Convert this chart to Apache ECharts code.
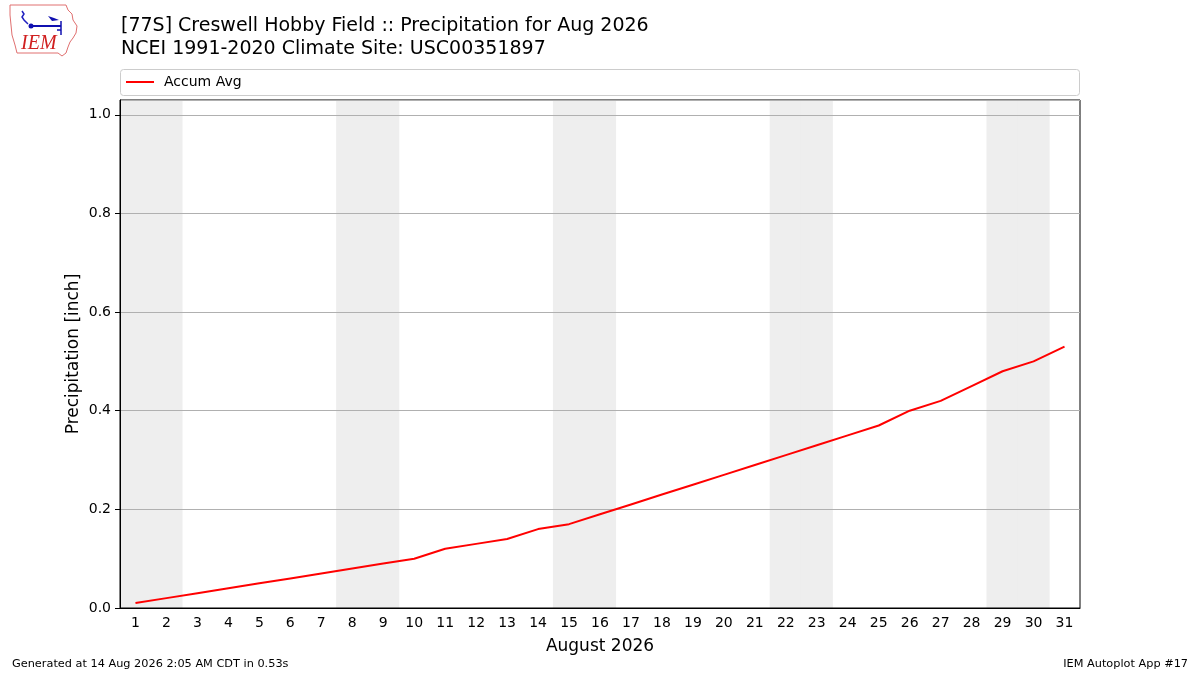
<!DOCTYPE html>
<html>
<head>
<meta charset="utf-8">
<title>Precipitation for Aug 2026</title>
<script src="https://cdn.jsdelivr.net/npm/echarts@6/dist/echarts.min.js"></script>
<style>
  html, body { margin: 0; padding: 0; background: #fff; }
  #chart { width: 1200px; height: 675px; }
</style>
</head>
<body>
<div id="chart"></div>
<script>
// day of month labels
var days = ['1', '2', '3', '4', '5', '6', '7', '8', '9', '10', '11', '12', '13', '14', '15', '16',
  '17', '18', '19', '20', '21', '22', '23', '24', '25', '26', '27', '28', '29', '30', '31'];
// accumulated climatology precip [inch]
var accumAvg = [0.01, 0.02, 0.03, 0.04, 0.05, 0.06, 0.07, 0.08, 0.09, 0.10, 0.12, 0.13, 0.14, 0.16, 0.17, 0.19,
  0.21, 0.23, 0.25, 0.27, 0.29, 0.31, 0.33, 0.35, 0.37, 0.40, 0.42, 0.45, 0.48, 0.50, 0.53];
// weekend days get the grey band
var weekendDays = ['1', '2', '8', '9', '15', '16', '22', '23', '29', '30'];
var yTicks = [0, 0.2, 0.4, 0.6, 0.8, 1.0];
var yMax = 1.03;

var font = 'DejaVu Sans';

var shade = days.map(function (d) {
  return weekendDays.indexOf(d) >= 0 ? yMax : '-';
});

var myChart = echarts.init(document.getElementById('chart'));
myChart.setOption({
  animation: false,
  backgroundColor: '#fff',
  textStyle: { fontFamily: font, color: '#000' },
  title: {
    text: '[77S] Creswell Hobby Field :: Precipitation for Aug 2026\nNCEI 1991-2020 Climate Site: USC00351897',
    left: 116,
    top: 10,
    textStyle: { fontFamily: font, fontSize: 19, fontWeight: 'normal', color: '#000', lineHeight: 23 }
  },
  legend: {
    data: ['Accum Avg'],
    left: 121,
    top: 70,
    icon: 'rect',
    itemWidth: 28,
    itemHeight: 2,
    textStyle: { fontFamily: font, fontSize: 14, color: '#000', padding: [0, 0, 0, 5] }
  },
  grid: {
    left: 120,
    right: 120,
    top: 100,
    bottom: 67,
    show: true,
    borderColor: '#000',
    borderWidth: 1,
    backgroundColor: 'transparent'
  },
  xAxis: {
    type: 'category',
    data: days,
    boundaryGap: true,
    name: 'August 2026',
    nameLocation: 'middle',
    nameGap: 30,
    nameTextStyle: { fontFamily: font, fontSize: 17, color: '#000' },
    axisLine: { lineStyle: { color: '#000', width: 1 } },
    axisTick: { alignWithLabel: true, length: 5, lineStyle: { color: '#000' } },
    axisLabel: { fontFamily: font, fontSize: 14, color: '#000', margin: 8, interval: 0 },
    splitLine: { show: false }
  },
  yAxis: {
    type: 'value',
    min: 0,
    max: yMax,
    interval: 0.2,
    name: 'Precipitation [inch]',
    nameLocation: 'middle',
    nameGap: 38,
    nameMoveOverlap: false,
    nameTextStyle: { fontFamily: font, fontSize: 17, color: '#000' },
    axisLine: { show: true, lineStyle: { color: '#000', width: 1 } },
    axisTick: { show: true, length: 5, lineStyle: { color: '#000' } },
    axisLabel: {
      fontFamily: font, fontSize: 14, color: '#000', margin: 9,
      padding: [3, 0, 0, 0],
      showMaxLabel: false,
      formatter: function (v) {
        return yTicks.indexOf(Math.round(v * 10) / 10) >= 0 ? v.toFixed(1) : '';
      }
    },
    splitLine: { show: true, lineStyle: { color: '#b0b0b0', width: 1 } }
  },
  series: [
    {
      name: 'weekend',
      type: 'bar',
      data: shade,
      barCategoryGap: '-4%',
      itemStyle: { color: '#eeeeee' },
      silent: true,
      z: -1,
      emphasis: { disabled: true }
    },
    {
      name: 'Accum Avg',
      type: 'line',
      data: accumAvg,
      color: '#ff0000',
      showSymbol: false,
      symbol: 'none',
      lineStyle: { color: '#ff0000', width: 2 },
      z: 5
    }
  ],
  graphic: [
    // legend frame
    {
      type: 'rect',
      shape: { x: 120.5, y: 69.5, width: 959, height: 26, r: 3 },
      style: { fill: 'rgba(255,255,255,0.8)', stroke: '#cccccc', lineWidth: 1 },
      z: -2
    },
    // IEM logo, rough
    {
      type: 'polygon',
      shape: {
        points: [[10, 5], [66, 5], [68, 10], [72, 14], [73, 20], [77, 26], [76, 33], [73, 38], [70, 42],
          [68, 47], [66, 53], [62, 56], [58, 53], [17, 53], [15, 45], [12, 35], [11, 25], [10, 15]]
      },
      style: { fill: '#fff', stroke: '#e07070', lineWidth: 1 }
    },
    {
      type: 'polyline',
      shape: { points: [[22, 11], [24, 14], [22, 17], [24, 20], [28, 24]] },
      style: { stroke: '#2020c0', lineWidth: 1.5, fill: null }
    },
    {
      type: 'circle',
      shape: { cx: 31, cy: 26, r: 2.5 },
      style: { fill: '#1010b0' }
    },
    {
      type: 'line',
      shape: { x1: 31, y1: 26, x2: 61, y2: 26 },
      style: { stroke: '#1010b0', lineWidth: 2 }
    },
    {
      type: 'polygon',
      shape: { points: [[48, 16], [54, 18], [59, 20], [52, 21]] },
      style: { fill: '#1010b0' }
    },
    {
      type: 'line',
      shape: { x1: 61, y1: 21, x2: 61, y2: 35 },
      style: { stroke: '#1010b0', lineWidth: 1.5 }
    },
    {
      type: 'line',
      shape: { x1: 57, y1: 30, x2: 61, y2: 30 },
      style: { stroke: '#1010b0', lineWidth: 1.5 }
    },
    {
      type: 'text',
      x: 21, y: 34,
      style: {
        text: 'IEM', fill: '#d02020', fontSize: 20, fontStyle: 'italic',
        fontFamily: 'Liberation Serif'
      }
    },
    // footer
    {
      type: 'text',
      left: 12, top: 659,
      style: { text: 'Generated at 14 Aug 2026 2:05 AM CDT in 0.53s', fill: '#000', fontSize: 11.3, fontFamily: font }
    },
    {
      type: 'text',
      right: 12, top: 659,
      style: { text: 'IEM Autoplot App #17', fill: '#000', fontSize: 11.3, fontFamily: font }
    }
  ]
});
</script>
</body>
</html>
